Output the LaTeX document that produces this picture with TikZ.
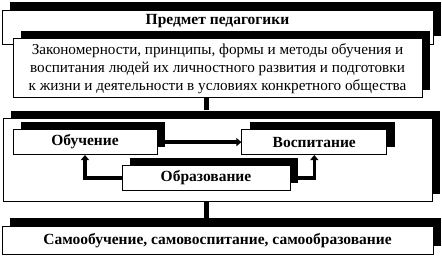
\documentclass[tikz,border=0pt]{standalone}
\usepackage{fontspec}
\setmainfont{Liberation Serif}
\usepackage{tikz}
\usetikzlibrary{arrows.meta,positioning,calc,shadows}
\tikzset{
  box/.style={draw, line width=0.8pt, fill=white, inner sep=0pt,
              drop shadow={shadow xshift=8pt, shadow yshift=8pt, fill=black, opacity=1}},
  head/.style={box, font=\bfseries\fontsize{15.5}{18}\selectfont},
  body/.style={box, align=center, font=\fontsize{15.2}{18}\selectfont},
  link/.style={line width=5pt},
  edge/.style={-{Triangle[length=5pt,width=8pt]}, line width=3.5pt}
}

\begin{document}
\begin{tikzpicture}
  \useasboundingbox (0,0) rectangle (442pt,-262pt);
  \node[head, minimum width=431pt, text height=15pt, text depth=19pt] (subj) at (217.5pt,-27pt) {Предмет педагогики};
  \node[body, minimum width=409pt, minimum height=59pt, below=-6pt of subj] (laws)
    {Закономерности, принципы, формы и методы обучения и\\
     воспитания людей их личностного развития и подготовки\\
     к жизни и деятельности в условиях конкретного общества};
  \node[box, minimum width=429pt, minimum height=83pt, below=20pt of laws] (group) {};
  \node[head, minimum width=144pt, minimum height=25pt, below right=11pt and 10pt of group.north west] (learn) {Обучение};
  \node[head, minimum width=145pt, minimum height=25pt, right=84pt of learn] (upbr) {Воспитание};
  \node[head, minimum width=168pt, minimum height=25pt, above=11pt of group.south, xshift=-11.5pt] (educ) {Образование};
  \node[head, minimum width=431pt, minimum height=28pt, below=24pt of group] (self) {Самообучение, самовоспитание, самообразование};

  \draw[link] (laws.south -| educ) -- ($(group.north -| educ)+(0,8pt)$);
  \draw[link] (group.south -| educ) -- ($(self.north -| educ)+(0,8pt)$);
  \draw[edge] (learn) -- (upbr);
  \draw[edge] (educ.west) -| (learn.south);
  \draw[edge] (educ.east) -| (upbr.south);
\end{tikzpicture}
\end{document}
